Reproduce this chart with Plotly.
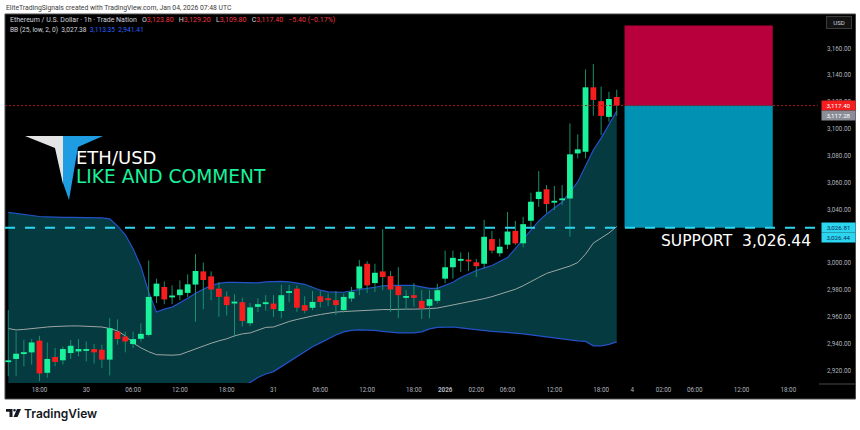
import plotly.graph_objects as go

# ---------------- data ----------------
hours = list(range(79))
opens = [2926.7, 2928.7, 2932.8, 2933.6, 2942.4, 2918.4, 2930.2, 2927.7, 2933.1, 2934.3,
         2935.2, 2936.1, 2935.6, 2928.2, 2949.1, 2945.4, 2939.8, 2943.7, 2946.6, 2975.4,
         2982.3, 2975.1, 2976.2, 2977.9, 2984.1, 2993.9, 2990.2, 2981.1, 2975.2, 2970.0,
         2971.0, 2955.3, 2967.5, 2970.0, 2970.0, 2964.4, 2978.4, 2981.1, 2968.8, 2966.8,
         2975.4, 2973.4, 2972.5, 2965.1, 2973.7, 2981.1, 2999.6, 2985.2, 2993.9, 2990.4,
         2983.0, 2974.7, 2976.2, 2972.0, 2968.3, 2972.0, 2988.5, 2997.0, 3002.4, 3002.5,
         3000.7, 2999.6, 3018.0, 3007.4, 3013.8, 3024.1, 3014.8, 3031.6, 3047.8, 3055.1,
         3045.6, 3047.4, 3048.2, 3081.8, 3083.0, 3131.0, 3120.7, 3109.0, 3123.8]
highs = [2965.1, 2949.1, 2942.9, 2943.5, 2945.9, 2941.0, 2937.0, 2938.0, 2942.9, 2943.5,
         2941.7, 2940.0, 2939.3, 2959.0, 2958.1, 2949.1, 2949.1, 2955.3, 3002.0, 2988.5,
         2986.5, 2983.5, 2987.2, 2991.7, 3006.8, 3000.5, 2993.9, 2986.0, 2979.1, 2976.9,
         2974.3, 2970.3, 2973.9, 2976.2, 2976.2, 2983.9, 2983.9, 2983.5, 2975.4, 2979.3,
         2979.3, 2977.4, 2979.3, 2977.4, 2982.3, 3002.5, 3001.5, 2999.6, 3025.4, 2994.1,
         2997.0, 2979.9, 2985.2, 2979.9, 2979.9, 2984.8, 3009.4, 3009.4, 3008.1, 3008.1,
         3003.2, 3032.3, 3024.1, 3018.2, 3038.2, 3031.5, 3034.5, 3052.5, 3068.7, 3058.2,
         3057.5, 3058.2, 3104.2, 3096.0, 3144.4, 3148.3, 3131.5, 3127.7, 3129.2]
lows = [2915.9, 2915.9, 2923.2, 2924.5, 2912.2, 2914.7, 2923.2, 2924.5, 2928.7, 2930.6,
        2926.9, 2925.2, 2922.1, 2916.4, 2939.3, 2933.6, 2936.8, 2941.7, 2945.4, 2970.3,
        2969.5, 2969.5, 2972.5, 2974.7, 2956.5, 2965.8, 2972.5, 2960.1, 2961.0, 2944.8,
        2952.9, 2953.3, 2963.6, 2964.6, 2960.1, 2959.0, 2971.0, 2963.8, 2962.7, 2965.1,
        2967.1, 2968.0, 2961.4, 2963.1, 2971.2, 2976.2, 2977.9, 2978.6, 2979.9, 2963.8,
        2959.0, 2965.1, 2967.5, 2958.5, 2959.0, 2970.0, 2985.2, 2988.5, 2993.4, 2994.1,
        2989.7, 2995.9, 3007.4, 3004.9, 3010.6, 3013.6, 3011.8, 3027.2, 3042.0, 3037.6,
        3039.6, 3043.4, 3019.7, 3078.1, 3078.1, 3109.9, 3095.4, 3105.4, 3109.8]
closes = [2927.3, 2932.6, 2933.3, 2941.0, 2917.9, 2928.7, 2926.5, 2936.1, 2938.5, 2936.1,
          2935.6, 2933.6, 2928.2, 2951.6, 2943.5, 2941.7, 2943.5, 2947.4, 2974.9, 2984.8,
          2973.0, 2975.4, 2980.4, 2984.3, 2994.2, 2987.5, 2980.4, 2974.9, 2968.8, 2971.4,
          2957.0, 2967.1, 2969.5, 2970.5, 2965.8, 2976.2, 2978.7, 2966.9, 2964.6, 2971.2,
          2971.2, 2973.0, 2968.8, 2974.9, 2978.6, 2997.6, 2983.5, 2992.9, 2989.7, 2980.4,
          2976.2, 2975.1, 2974.2, 2966.3, 2973.2, 2979.9, 2997.0, 3004.0, 3002.6, 3001.5,
          2997.8, 3019.7, 3009.4, 3012.3, 3023.6, 3014.8, 3029.1, 3045.8, 3053.2, 3044.1,
          3046.0, 3047.8, 3081.1, 3084.8, 3131.0, 3121.6, 3109.7, 3122.3, 3117.4]
bb_upper = [3037.8, 3037.0, 3035.9, 3035.2, 3034.8, 3034.5, 3034.1, 3034.1, 3034.1, 3034.1,
            3034.1, 3034.1, 3033.7, 3033.0, 3027.8, 3021.2, 3010.8, 2997.6, 2978.4, 2963.6,
            2965.8, 2967.3, 2970.3, 2973.9, 2977.6, 2980.6, 2983.5, 2985.0, 2985.8, 2985.8,
            2985.8, 2985.8, 2985.4, 2986.1, 2986.5, 2986.5, 2986.1, 2985.0, 2984.3, 2982.1,
            2979.9, 2978.7, 2978.4, 2978.4, 2979.5, 2980.6, 2981.3, 2982.1, 2983.2, 2983.5,
            2983.5, 2983.5, 2983.5, 2982.4, 2981.3, 2981.3, 2983.5, 2985.8, 2989.4, 2992.0,
            2994.6, 2996.5, 2998.3, 3001.3, 3004.2, 3010.8, 3017.5, 3024.9, 3031.5, 3036.7,
            3041.1, 3045.6, 3053.0, 3060.5, 3072.4, 3084.3, 3093.2, 3103.7, 3113.35]
bb_basis = [2951.4, 2950.3, 2950.7, 2951.4, 2952.2, 2952.5, 2952.9, 2953.3, 2953.3, 2953.3,
            2952.9, 2952.9, 2952.5, 2951.4, 2949.6, 2945.9, 2940.7, 2937.0, 2934.1, 2931.9,
            2931.5, 2931.5, 2931.9, 2934.1, 2936.3, 2938.2, 2940.4, 2942.2, 2943.7, 2945.9,
            2947.4, 2948.1, 2950.3, 2952.2, 2952.5, 2954.8, 2956.6, 2958.1, 2959.6, 2960.7,
            2961.8, 2962.9, 2963.6, 2964.0, 2964.4, 2964.7, 2965.1, 2965.1, 2965.5, 2965.5,
            2965.8, 2965.8, 2965.8, 2965.8, 2966.2, 2966.6, 2967.7, 2968.8, 2969.9, 2971.0,
            2972.5, 2973.6, 2975.1, 2976.9, 2978.7, 2980.6, 2983.2, 2986.5, 2989.4, 2992.4,
            2994.2, 2995.7, 2997.9, 3000.5, 3006.8, 3015.0, 3018.8, 3022.5, 3027.38]
bb_lower = [2865.1, 2863.6, 2865.5, 2867.7, 2869.5, 2870.6, 2871.7, 2872.5, 2872.5, 2872.5,
            2871.7, 2871.7, 2871.4, 2869.9, 2871.4, 2870.6, 2870.6, 2876.5, 2889.8, 2900.1,
            2897.2, 2895.7, 2893.5, 2894.2, 2895.0, 2895.7, 2897.2, 2899.4, 2901.6, 2906.1,
            2909.0, 2911.2, 2914.9, 2917.5, 2919.3, 2923.0, 2926.7, 2930.4, 2934.1, 2937.8,
            2940.7, 2943.7, 2946.6, 2948.9, 2950.0, 2950.3, 2950.3, 2950.0, 2949.2, 2948.5,
            2948.1, 2948.1, 2948.1, 2948.9, 2951.1, 2952.2, 2952.5, 2952.5, 2951.8, 2951.1,
            2950.3, 2949.6, 2949.2, 2948.9, 2948.5, 2948.1, 2947.4, 2946.6, 2945.9, 2945.2,
            2944.4, 2943.7, 2942.6, 2942.2, 2941.8, 2938.5, 2938.5, 2939.6, 2941.41]
time_tick_pos = [4, 10, 16, 22, 28, 34, 40, 46, 52, 56, 60, 64, 70, 76, 80, 84, 88, 94, 100]
time_tick_text = ["18:00", "30", "06:00", "12:00", "18:00", "31", "06:00", "12:00", "18:00",
                  "<b>2026</b>", "02:00", "06:00", "12:00", "18:00", "4", "02:00", "06:00",
                  "12:00", "18:00"]
price_ticks = [2920, 2940, 2960, 2980, 3000, 3020, 3040, 3060, 3080, 3100, 3120, 3140, 3160]
entry_price = 3117.40
stop_price = 3177.0
support_price = 3026.44
legend_ohlc = ["3,123.80", "3,129.20", "3,109.80", "3,117.40", "−5.40 (−0.17%)"]
legend_bb = ["3,027.38", "3,113.35", "2,941.41"]
axis_labels = [("3,117.40", entry_price), ("3,117.28", entry_price),
               ("3,026.81", support_price), ("3,026.44", support_price)]

# ---------------- geometry helpers ----------------
W, H = 860, 430
L, R, T, B = 5, 818, 14, 383


def pxx(x):
    return (x - L) / (R - L)


def pxy(y):
    return (B - y) / (B - T)


def path(points):
    return "M " + " L ".join(f"{pxx(x):.5f},{pxy(y):.5f}" for x, y in points) + " Z"


UP, DOWN, WICK = "#19f29b", "#f51d1d", "#17906c"
MIN_BODY = 1.4

wx, wy = [], []
ux, uy, dx, dy = [], [], [], []
for i, o, h, l, c in zip(hours, opens, highs, lows, closes):
    wx += [i, i, None]
    wy += [l, h, None]
    lo, hi = min(o, c), max(o, c)
    if hi - lo < MIN_BODY:
        mid = (hi + lo) / 2
        lo, hi = mid - MIN_BODY / 2, mid + MIN_BODY / 2
    if c >= o:
        ux += [i, i, None]
        uy += [lo, hi, None]
    else:
        dx += [i, i, None]
        dy += [lo, hi, None]

fig = go.Figure()
fig.add_trace(go.Scatter(x=hours, y=bb_lower, mode="lines",
                         line=dict(color="#2452c8", width=1.2), hoverinfo="skip"))
fig.add_trace(go.Scatter(x=hours, y=bb_upper, mode="lines", fill="tonexty",
                         fillcolor="#043a40", line=dict(color="#2452c8", width=1.2),
                         hoverinfo="skip"))
fig.add_trace(go.Scatter(x=hours, y=bb_basis, mode="lines",
                         line=dict(color="#9ea6a6", width=1), hoverinfo="skip"))
fig.add_trace(go.Scatter(x=wx, y=wy, mode="lines", line=dict(color=WICK, width=1),
                         hoverinfo="skip"))
fig.add_trace(go.Scatter(x=ux, y=uy, mode="lines", line=dict(color=UP, width=5.8),
                         hoverinfo="skip"))
fig.add_trace(go.Scatter(x=dx, y=dy, mode="lines", line=dict(color=DOWN, width=5.8),
                         hoverinfo="skip"))

shapes = [
    dict(type="rect", xref="paper", yref="paper", x0=pxx(5), x1=pxx(855.5),
         y0=pxy(399), y1=pxy(14), fillcolor="#000000",
         line=dict(color="#4a4a4a", width=1), layer="below"),
    dict(type="line", xref="paper", yref="paper", x0=pxx(819), x1=pxx(855.5),
         y0=pxy(384), y1=pxy(384), line=dict(color="#4a4a4a", width=1)),
    dict(type="rect", xref="x", yref="y", x0=79, x1=98, y0=entry_price, y1=stop_price,
         fillcolor="#b8003c", line=dict(width=0), layer="below"),
    dict(type="rect", xref="x", yref="y", x0=79, x1=98, y0=support_price, y1=entry_price,
         fillcolor="#0091b3", line=dict(width=0), layer="below"),
    dict(type="line", xref="paper", yref="y", x0=0, x1=1, y0=entry_price, y1=entry_price,
         line=dict(color="#a01818", width=1, dash="2px,2px")),
    dict(type="line", xref="paper", yref="y", x0=0, x1=1, y0=support_price, y1=support_price,
         line=dict(color="#2cd5f0", width=2, dash="10px,10px")),
    # logo
    dict(type="path", xref="paper", yref="paper",
         path=path([(25, 136), (63, 136), (63, 184), (55, 148)]),
         fillcolor="#e4e4e4", line=dict(width=0)),
    dict(type="path", xref="paper", yref="paper",
         path=path([(63, 136), (103, 136), (78, 147), (69, 200), (63, 183)]),
         fillcolor="#1e9de2", line=dict(width=0)),
    # TradingView mark
    dict(type="path", xref="paper", yref="paper",
         path=path([(6, 409), (12.5, 409), (12.5, 417), (9.5, 417), (9.5, 411.8), (6, 411.8)]),
         fillcolor="#131722", line=dict(width=0)),
    dict(type="circle", xref="paper", yref="paper", x0=pxx(13.2), x1=pxx(15.8),
         y0=pxy(411.5), y1=pxy(408.9), fillcolor="#131722", line=dict(width=0)),
    dict(type="path", xref="paper", yref="paper",
         path=path([(17, 409), (21, 409), (17.5, 417), (13.5, 417)]),
         fillcolor="#131722", line=dict(width=0)),
]

small = "Roboto"
RED_TXT, BLUE_TXT = "#f23645", "#2962ff"
GAP = "&nbsp;&nbsp;&nbsp;"
ohlc_html = ("Ethereum / U.S. Dollar · 1h · Trade Nation" + GAP +
             f"O<span style='color:{RED_TXT}'>{legend_ohlc[0]}</span>" + GAP +
             f"H<span style='color:{RED_TXT}'>{legend_ohlc[1]}</span>" + GAP +
             f"L<span style='color:{RED_TXT}'>{legend_ohlc[2]}</span>" + GAP +
             f"C<span style='color:{RED_TXT}'>{legend_ohlc[3]}</span>" + GAP +
             f"<span style='color:{RED_TXT}'>{legend_ohlc[4]}</span>")
bb_html = (f"BB (25, low, 2, 0)&nbsp;&nbsp;{legend_bb[0]}&nbsp;&nbsp;"
           f"<span style='color:{BLUE_TXT}'>{legend_bb[1]}</span>&nbsp;&nbsp;"
           f"<span style='color:{BLUE_TXT}'>{legend_bb[2]}</span>")


def ann(text, x, y, size, color, family=small, xanchor="left", weight=None, **kw):
    f = dict(size=size, color=color, family=family)
    if weight:
        f["weight"] = weight
    d = dict(text=text, xref="paper", yref="paper", x=pxx(x), y=pxy(y), xanchor=xanchor,
             yanchor="middle", showarrow=False, font=f)
    d.update(kw)
    return d


annotations = [
    ann("EliteTradingSignals created with TradingView.com, Jan 04, 2026 07:48 UTC",
        4, 8, 6.8, "#3a3a3a"),
    ann(ohlc_html, 8, 20, 7.0, "#d1d4dc"),
    ann(bb_html, 8, 30, 6.6, "#d1d4dc"),
    ann("USD", 838.5, 22, 6, "#d1d4dc", xanchor="center", bgcolor="#121212",
        bordercolor="#3c3c3c", borderwidth=1, width=22, height=9),
    ann("ETH/USD", 74, 157, 18, "#ffffff", family="DejaVu Sans"),
    ann("LIKE AND COMMENT", 74, 177, 18.6, "#19f29b", family="DejaVu Sans"),
    ann("SUPPORT&nbsp;&nbsp;3,026.44", 659, 241, 15.5, "#ffffff", family="DejaVu Sans"),
    ann("TradingView", 22, 413.5, 12, "#131722", family="Inter", weight=600),
]
label_style = [(0, DOWN, "#ffffff"), (-9.5, "#8a8d96", "#ffffff"),
               (0, "#2cd5f0", "#0a2f5c"), (-9.5, "#2cd5f0", "#0a2f5c")]
for (txt, price), (shift, bg, fg) in zip(axis_labels, label_style):
    annotations.append(dict(text=txt, xref="paper", yref="y", x=pxx(821), y=price,
                            yshift=shift, xanchor="left", yanchor="middle", showarrow=False,
                            bgcolor=bg, width=32, height=8, borderpad=0.5,
                            font=dict(size=6.2, color=fg, family=small)))

fig.update_layout(
    width=W, height=H,
    margin=dict(l=L, r=W - R, t=T, b=H - B),
    paper_bgcolor="#ffffff", plot_bgcolor="#000000",
    showlegend=False,
    shapes=shapes, annotations=annotations,
    xaxis=dict(range=[-0.42, 103.8], tickvals=time_tick_pos, ticktext=time_tick_text,
               showgrid=False, zeroline=False, showline=False, ticks="",
               tickfont=dict(size=6.3, color="#b2b5be", family=small), ticklabelstandoff=2),
    yaxis=dict(range=[2910.8, 3185.6], side="right", tickvals=price_ticks, tickformat=",.2f",
               showgrid=False, zeroline=False, showline=False, ticks="",
               tickfont=dict(size=6.3, color="#b2b5be", family=small), ticklabelstandoff=8),
)

fig.write_html("out.html")
